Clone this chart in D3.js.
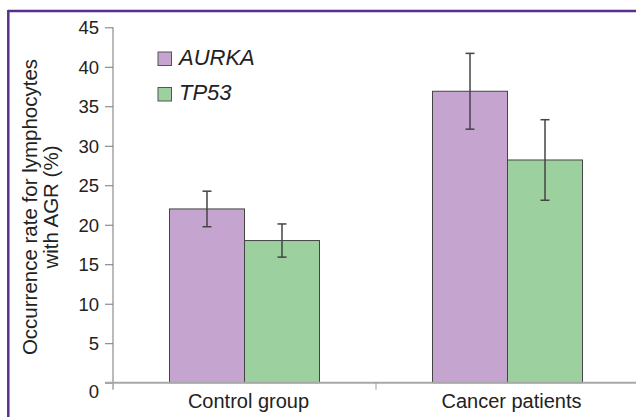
<!DOCTYPE html>
<html>
<head>
<meta charset="utf-8">
<script src="https://cdn.jsdelivr.net/npm/d3@7"></script>
<style>
  body { margin: 0; background: #fff; }
  svg { display: block; font-family: "Liberation Sans", Arial, sans-serif; }
</style>
</head>
<body>
<svg id="canvas" width="636" height="417"></svg>
<script>
const categories = ["Control group", "Cancer patients"];
const genes = ["AURKA", "TP53"];
const aurkaValues = [22.0, 36.9];
const aurkaErrors = [2.25, 4.8];
const tp53Values = [18.0, 28.2];
const tp53Errors = [2.1, 5.1];
const yTicks = [0, 5, 10, 15, 20, 25, 30, 35, 40, 45];

const colors = ["#c5a5cf", "#9dd09f"];

const canvas = d3.select("#canvas");

const plotLeft = 113, plotRight = 639, plotTop = 27.3, plotBottom = 382.7;

const x = d3.scaleBand().domain(categories).range([plotLeft, plotRight]);
const sub = d3.scaleBand().domain(genes).range([0, 150]);
const y = d3.scaleLinear().domain([0, 45]).range([plotBottom, plotTop]);

// frame
canvas.append("line").attr("x1", 8).attr("x2", 636).attr("y1", 11).attr("y2", 11)
  .attr("stroke", "#5a2e8f").attr("stroke-width", 2.5);
canvas.append("line").attr("x1", 8.3).attr("x2", 8.3).attr("y1", 10).attr("y2", 417)
  .attr("stroke", "#5a2e8f").attr("stroke-width", 2.5);

// bars
const rows = [];
categories.forEach((c, i) => {
  rows.push({ cat: c, gene: "AURKA", v: aurkaValues[i], e: aurkaErrors[i], color: colors[0] });
  rows.push({ cat: c, gene: "TP53", v: tp53Values[i], e: tp53Errors[i], color: colors[1] });
});

const bx = d => x(d.cat) + (x.bandwidth() - 150) / 2 + sub(d.gene);

canvas.selectAll("rect.bar").
  data(rows).
  enter().
  append("rect").
  attr("class", "bar").
  attr("x", d => bx(d)).
  attr("y", d => y(d.v)).
  attr("width", sub.bandwidth()).
  attr("height", d => y(0) - y(d.v)).
  attr("fill", d => d.color).
  attr("stroke", "#444").
  attr("stroke-width", 1);

// error bars
const eb = canvas.append("g").attr("stroke", "#444").attr("stroke-width", 1.5);
rows.forEach(d => {
  const cx = bx(d) + sub.bandwidth() / 2;
  eb.append("line").attr("x1", cx).attr("x2", cx).attr("y1", y(d.v + d.e)).attr("y2", y(d.v - d.e));
  eb.append("line").attr("x1", cx - 4.5).attr("x2", cx + 4.5).attr("y1", y(d.v + d.e)).attr("y2", y(d.v + d.e));
  eb.append("line").attr("x1", cx - 4.5).attr("x2", cx + 4.5).attr("y1", y(d.v - d.e)).attr("y2", y(d.v - d.e));
});

// y axis
const yAxis = d3.axisLeft(y).tickValues(yTicks).tickSize(8).tickSizeOuter(0).tickPadding(6);
const gy = canvas.append("g").attr("transform", `translate(${plotLeft},0)`).call(yAxis);
gy.select(".domain").attr("stroke", "#777").attr("d", `M0,${plotTop}V${plotBottom + 7}`);
gy.selectAll(".tick line").attr("stroke", "#777");
gy.selectAll(".tick text").attr("fill", "#222").style("font-size", "18.5px")
  .attr("dy", d => d === 0 ? "0.8em" : "0.35em");

// x axis
const xAxis = d3.axisBottom(x).tickValues([]).tickSizeOuter(0);
const gx = canvas.append("g").attr("transform", `translate(0,${plotBottom})`).call(xAxis);
gx.select(".domain").attr("stroke", "#a8a8a8").attr("stroke-width", 2).attr("d", `M${plotLeft - 8},0H636`);
gx.append("line").attr("x1", x(categories[1])).attr("x2", x(categories[1])).attr("y1", 0).attr("y2", 7)
  .attr("stroke", "#999");
gx.selectAll("text.cat").
  data(categories).
  enter().
  append("text").
  attr("class", "cat").
  attr("x", d => x(d) + x.bandwidth() / 2 + 4).
  attr("y", 25.6).
  attr("text-anchor", "middle").
  attr("fill", "#222").
  style("font-size", "20px").
  text(d => d);

// y title
const yt = canvas.append("text").attr("transform", "translate(0,207) rotate(-90)")
  .attr("text-anchor", "middle").attr("fill", "#222").style("font-size", "20.5px");
yt.append("tspan").attr("x", 0).attr("y", 36.5).text("Occurrence rate for lymphocytes");
yt.append("tspan").attr("x", 0).attr("y", 58).text("with AGR (%)");

// legend
const lg = canvas.append("g").attr("transform", "translate(158,52)");
genes.forEach((g, i) => {
  lg.append("rect").attr("x", 0).attr("y", i * 35.5).attr("width", 13.5).attr("height", 13.5)
    .attr("fill", colors[i]).attr("stroke", "#555").attr("stroke-width", 1);
  lg.append("text").attr("x", 21).attr("y", i * 35.5 + 12.5).attr("fill", "#222")
    .style("font-size", "22px").style("font-style", "italic").text(g);
});
</script>
</body>
</html>
